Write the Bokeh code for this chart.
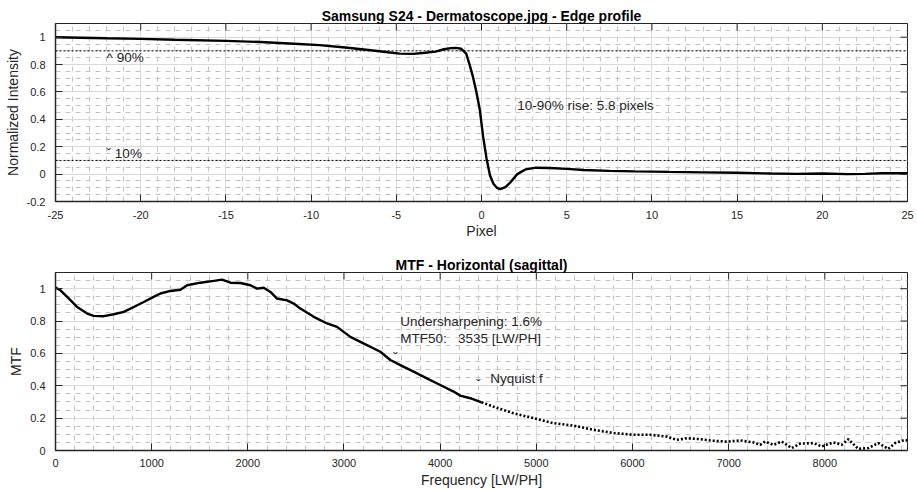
import math
from bokeh.plotting import figure
from bokeh.models import SingleIntervalTicker, Span, Label, CustomJSTickFormatter
from bokeh.layouts import column
from bokeh.embed import file_html
from bokeh.resources import INLINE

FONT = "Liberation Sans"
INK = "#262626"

# ---- Edge profile data ----
edge_x = [-25, -22, -20, -18, -15, -13, -11, -9.5, -8, -6.5, -5.5, -4.8, -4, -3.3, -2.7,
          -2.2, -1.8, -1.5, -1.2, -0.9, -0.7, -0.5, -0.3, -0.1, 0.1, 0.3, 0.5, 0.7, 0.9,
          1.1, 1.4, 1.7, 2.1, 2.6, 3.2, 4.0, 5.0, 6.0, 7.5, 9, 11, 13, 15, 17, 18.5, 20,
          21.5, 22.5, 23.5, 25]
edge_y = [1.0, 0.992, 0.988, 0.981, 0.973, 0.965, 0.952, 0.942, 0.925, 0.905, 0.89, 0.88,
          0.878, 0.886, 0.895, 0.912, 0.92, 0.922, 0.916, 0.88, 0.80, 0.71, 0.60, 0.47,
          0.27, 0.11, -0.01, -0.07, -0.10, -0.11, -0.095, -0.06, 0.0, 0.035, 0.047, 0.045,
          0.038, 0.03, 0.024, 0.02, 0.016, 0.013, 0.01, 0.004, 0.002, 0.004, 0.0, 0.002,
          0.006, 0.006]
ref_levels = [0.9, 0.1]
edge_xticks = [-25, -20, -15, -10, -5, 0, 5, 10, 15, 20, 25]
edge_yticks = [-0.2, 0, 0.2, 0.4, 0.6, 0.8, 1.0]

# ---- MTF data ----
mtf_f = [0, 52, 121, 225, 329, 398, 502, 606, 710, 814, 918, 1005, 1091, 1195, 1299, 1369,
         1507, 1646, 1732, 1819, 1923, 2027, 2096, 2165, 2235, 2304, 2408, 2477, 2546, 2685,
         2824, 2928, 3066, 3239, 3378, 3482, 3586, 3724, 3862, 4001, 4140, 4209, 4313, 4430]
mtf_v = [1.007, 0.99, 0.949, 0.887, 0.846, 0.832, 0.83, 0.842, 0.857, 0.887, 0.918, 0.945,
         0.97, 0.986, 0.993, 1.021, 1.037, 1.048, 1.056, 1.037, 1.035, 1.021, 1.0, 1.006,
         0.98, 0.939, 0.928, 0.908, 0.877, 0.826, 0.785, 0.764, 0.702, 0.651, 0.61, 0.559,
         0.528, 0.487, 0.446, 0.405, 0.364, 0.339, 0.323, 0.298]
hf_f = [4430, 4555, 4763, 4971, 5179, 5387, 5595, 5803, 6011, 6184, 6357, 6461, 6565, 6704,
        6842, 6981, 7120, 7258, 7327, 7379, 7466, 7552, 7656, 7743, 7881, 7968, 8089, 8176,
        8245, 8349, 8453, 8556, 8660, 8731, 8835, 8860]
hf_v = [0.298, 0.271, 0.23, 0.2, 0.169, 0.154, 0.128, 0.108, 0.097, 0.097, 0.086, 0.066,
        0.076, 0.07, 0.06, 0.055, 0.062, 0.05, 0.035, 0.055, 0.035, 0.055, 0.015, 0.042,
        0.046, 0.025, 0.05, 0.035, 0.07, 0.01, 0.015, 0.046, 0.01, 0.046, 0.066, 0.062]
mtf_xticks = [0, 1000, 2000, 3000, 4000, 5000, 6000, 7000, 8000]
mtf_yticks = [0, 0.2, 0.4, 0.6, 0.8, 1.0]

fmt = CustomJSTickFormatter(code="return String(Math.round(tick*1000)/1000);")


def txt(p, x, y, s, size="13.5px", align="left", baseline="middle"):
    p.add_layout(Label(x=x, y=y, text=s, text_font=FONT, text_font_size=size,
                       text_align=align, text_baseline=baseline, text_color=INK))


def style(p, xint, xminor, yint, ymin, xlabel, ylabel, xstand, xlstand, xticks, yticks):
    xt = SingleIntervalTicker(interval=xint, num_minor_ticks=xminor)
    yt = SingleIntervalTicker(interval=yint, num_minor_ticks=ymin)
    p.xaxis.ticker = xt
    p.yaxis.ticker = yt
    p.xgrid.ticker = xt
    p.ygrid.ticker = yt
    for g in (p.xgrid, p.ygrid):
        g.grid_line_color = "#dadada"
        g.grid_line_width = 1
        g.minor_grid_line_color = "#c4c4c4"
        g.minor_grid_line_dash = "5 5"
        g.minor_grid_line_width = 1
    for ax in (p.xaxis, p.yaxis):
        ax.formatter = fmt
        ax.axis_line_color = INK
        ax.axis_line_width = 1.5
        ax.major_tick_in = 7
        ax.major_tick_out = 0
        ax.major_tick_line_color = INK
        ax.minor_tick_line_color = None
        ax.major_label_text_font = FONT
        ax.major_label_text_font_size = "11px"
        ax.major_label_text_color = INK
        ax.axis_label_text_font = FONT
        ax.axis_label_text_font_size = "14px"
        ax.axis_label_text_font_style = "normal"
        ax.axis_label_text_color = INK
    p.xaxis.axis_label = xlabel
    p.yaxis.axis_label = ylabel
    p.xaxis.major_label_standoff = xstand
    p.xaxis.axis_label_standoff = xlstand
    p.yaxis.major_label_standoff = 6
    p.yaxis.axis_label_standoff = 3
    p.outline_line_color = INK
    p.outline_line_width = 1
    p.background_fill_color = "white"
    p.border_fill_color = "white"
    p.title.text_font = FONT
    p.title.text_font_size = "14px"
    p.title.text_font_style = "bold"
    p.title.text_color = "black"
    p.title.align = "center"
    p.title.standoff = 0
    # inward ticks on the top and right edges of the box (half of each dash is clipped)
    xr, yr = p.x_range, p.y_range
    p.scatter(xticks, [yr.end] * len(xticks), marker="dash", size=14, angle=math.pi / 2,
              line_color=INK, line_width=1)
    p.scatter([xr.end] * len(yticks), yticks, marker="dash", size=14,
              line_color=INK, line_width=1)


# ---------------- Edge profile ----------------
p1 = figure(width=917, height=245, x_range=(-25, 25), y_range=(-0.2, 1.1),
            output_backend="svg", toolbar_location=None,
            min_border_left=55, min_border_right=10, min_border_top=23, min_border_bottom=44,
            title="Samsung S24 - Dermatoscope.jpg - Edge profile")
style(p1, 5, 5, 0.2, 4, "Pixel", "Normalized Intensity", 5, 1, edge_xticks, edge_yticks)
for lv in ref_levels:
    p1.add_layout(Span(location=lv, dimension="width", line_color="black",
                       line_dash="2 2", line_width=1))
p1.line(edge_x, edge_y, line_color="black", line_width=2.4)
txt(p1, -22, 0.855, "^ 90%")
txt(p1, -22, 0.149, "\u02c7 10%")
txt(p1, 2.1, 0.5, "10-90% rise: 5.8 pixels")

# ---------------- MTF ----------------
p2 = figure(width=917, height=245, x_range=(0, 8860), y_range=(0, 1.1),
            output_backend="svg", toolbar_location=None,
            min_border_left=55, min_border_right=10, min_border_top=27, min_border_bottom=39,
            title="MTF - Horizontal (sagittal)")
style(p2, 1000, 5, 0.2, 4, "Frequency [LW/PH]", "MTF", 4, 2, mtf_xticks, mtf_yticks)
p2.line(mtf_f, mtf_v, line_color="black", line_width=2.4)
p2.line(hf_f, hf_v, line_color="black", line_width=2.6, line_dash="2 2")
txt(p2, 3585, 0.8, "Undersharpening: 1.6%")
txt(p2, 3585, 0.694, "MTF50:\u00a0\u00a0\u00a03535 [LW/PH]")
txt(p2, 3535, 0.575, "\u02c7", align="center")
txt(p2, 4400, 0.41, "\u02c7", align="center")
txt(p2, 4520, 0.448, "Nyquist f")

layout = column(p1, p2)
open("out.html", "w").write(file_html(layout, INLINE))
